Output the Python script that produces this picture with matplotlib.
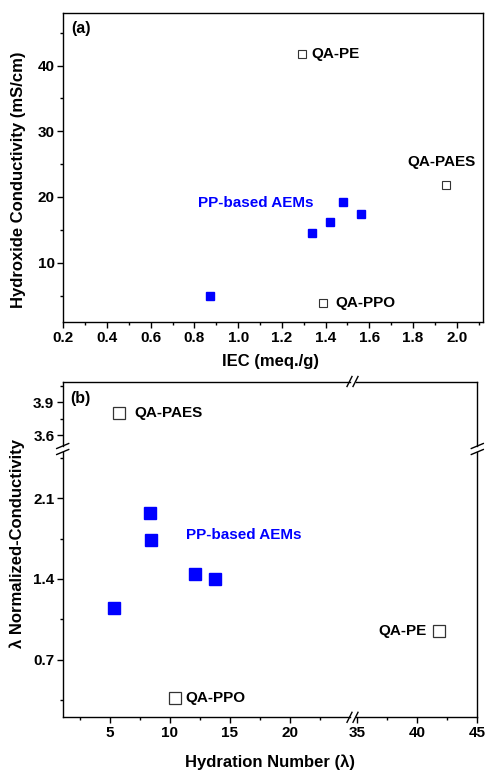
import numpy as np
import matplotlib
matplotlib.use("Agg")
import matplotlib.pyplot as plt
from matplotlib.lines import Line2D

plt.rcParams['font.family'] = ['Liberation Sans', 'DejaVu Sans']
plt.rcParams['font.weight'] = 'bold'

W, H = 487, 772

# данные панели (a): IEC vs проводимость
pp_iec = [0.87, 1.34, 1.42, 1.48, 1.56]
pp_cond = [5.0, 14.5, 16.2, 19.2, 17.4]
ref_names = ['QA-PE', 'QA-PAES', 'QA-PPO']
ref_iec = [1.29, 1.95, 1.39]
ref_cond = [41.8, 21.9, 3.9]

# данные панели (b): гидратное число vs нормированная проводимость
pp_lambda = [5.3, 8.3, 8.4, 12.1, 13.75]
pp_norm = [1.15, 1.97, 1.74, 1.44, 1.40]
ref_lambda = [41.85, 5.75, 10.4]
ref_norm = [0.95, 3.80, 0.37]

a_xticks = [0.2, 0.4, 0.6, 0.8, 1.0, 1.2, 1.4, 1.6, 1.8, 2.0]
a_yticks = [10, 20, 30, 40]
b_xticks_left = [5, 10, 15, 20]
b_xticks_right = [35, 40, 45]
b_yticks_low = [0.7, 1.4, 2.1]
b_yticks_up = [3.6, 3.9]

TICK_FS = 11
NOTE_FS = 11


def fr(x, y):
    # пиксели -> доли фигуры
    return x / W, 1 - y / H


def box(l, t, r, b):
    x0, y1 = fr(l, t)
    x1, y0 = fr(r, b)
    return [x0, y0, x1 - x0, y1 - y0]


def style(ax):
    ax.tick_params(which='major', direction='out', length=4, width=1, labelsize=TICK_FS, pad=2)
    ax.tick_params(which='minor', direction='out', length=2.5, width=1)
    for s in ax.spines.values():
        s.set_linewidth(1)
    for lab in ax.get_xticklabels() + ax.get_yticklabels():
        lab.set_fontweight('bold')


fig = plt.figure(figsize=(W / 100, H / 100), dpi=100)

# ---------------- панель (a)
ax = fig.add_axes(box(63.3, 13, 483, 322.5))
ax.plot(pp_iec, pp_cond, 's', color='blue', ms=6, mec='blue')
ax.plot(ref_iec, ref_cond, 's', mfc='white', mec='#333333', mew=0.8, ms=6)
ax.set_xlim(0.2, 2.12)
ax.set_ylim(0.9, 48)
ax.set_xticks(a_xticks)
ax.set_xticklabels([f'{v:.1f}' for v in a_xticks])
ax.set_xticks(np.arange(0.3, 2.12, 0.2), minor=True)
ax.set_yticks(a_yticks)
ax.set_yticks([5, 15, 25, 35, 45], minor=True)
style(ax)
ax.text(0.02, 0.975, '(a)', transform=ax.transAxes, fontsize=11.5, fontweight='bold', va='top')
ax.text(1.333, 41.8, 'QA-PE', fontsize=NOTE_FS, fontweight='bold', va='center')
ax.text(1.93, 25.4, 'QA-PAES', fontsize=NOTE_FS, fontweight='bold', va='center', ha='center')
ax.text(1.445, 3.9, 'QA-PPO', fontsize=NOTE_FS, fontweight='bold', va='center')
ax.text(0.815, 19.1, 'PP-based AEMs', fontsize=NOTE_FS, fontweight='bold', va='center', color='blue')
fig.text(*fr(270, 361.7), 'IEC (meq./g)', fontsize=12, fontweight='bold', ha='center', va='center')
fig.text(*fr(19, 180), 'Hydroxide Conductivity (mS/cm)', fontsize=12, fontweight='bold',
         ha='center', va='center', rotation=90)

# ---------------- панель (b) с разрывами осей
L, R, T, B = 62.7, 477.3, 381.5, 717.3
xb1, xb2 = 349.5, 355.5
yb1, yb2 = 446, 452
ax_ul = fig.add_axes(box(L, T, xb1, yb1))
ax_ur = fig.add_axes(box(xb2, T, R, yb1))
ax_ll = fig.add_axes(box(L, yb2, xb1, B))
ax_lr = fig.add_axes(box(xb2, yb2, R, B))

for a in (ax_ul, ax_ur, ax_ll, ax_lr):
    a.plot(pp_lambda, pp_norm, 's', color='blue', ms=8, mec='blue')
    a.plot(ref_lambda, ref_norm, 's', mfc='white', mec='#333333', mew=0.9, ms=8)

for a in (ax_ul, ax_ll):
    a.set_xlim(1.05, 25.0)
for a in (ax_ur, ax_lr):
    a.set_xlim(34.9, 45)
for a in (ax_ul, ax_ur):
    a.set_ylim(3.5, 4.09)
    a.spines['bottom'].set_visible(False)
    a.tick_params(axis='x', which='both', bottom=False, labelbottom=False)
for a in (ax_ll, ax_lr):
    a.set_ylim(0.2, 2.5)
    a.spines['top'].set_visible(False)
for a in (ax_ul, ax_ll):
    a.spines['right'].set_visible(False)
for a in (ax_ur, ax_lr):
    a.spines['left'].set_visible(False)
    a.tick_params(axis='y', which='both', left=False, labelleft=False)

ax_ul.set_yticks(b_yticks_up)
ax_ul.set_yticks([3.75, 4.05], minor=True)
ax_ll.set_yticks(b_yticks_low)
ax_ll.set_yticks([0.35, 1.05, 1.75, 2.45], minor=True)
ax_ll.set_xticks(b_xticks_left)
ax_ll.set_xticks([2.5, 7.5, 12.5, 17.5, 22.5], minor=True)
ax_lr.set_xticks(b_xticks_right)
ax_lr.set_xticks([37.5, 42.5], minor=True)
for a in (ax_ul, ax_ur, ax_ll, ax_lr):
    style(a)

ax_ul.text(0.028, 0.86, '(b)', transform=ax_ul.transAxes, fontsize=11.5, fontweight='bold', va='top')
ax_ul.text(7.0, 3.8, 'QA-PAES', fontsize=NOTE_FS, fontweight='bold', va='center')
ax_ll.text(11.33, 1.78, 'PP-based AEMs', fontsize=NOTE_FS, fontweight='bold', va='center', color='blue')
ax_ll.text(11.33, 0.365, 'QA-PPO', fontsize=NOTE_FS, fontweight='bold', va='center')
ax_lr.text(40.8, 0.95, 'QA-PE', fontsize=NOTE_FS, fontweight='bold', va='center', ha='right')

fig.text(*fr(270, 762), 'Hydration Number (λ)', fontsize=12, fontweight='bold', ha='center', va='center')
fig.text(*fr(17, 543), 'λ Normalized-Conductivity', fontsize=12, fontweight='bold',
         ha='center', va='center', rotation=90)


# знаки разрыва "//"
def slash(x0, y0, x1, y1):
    (a0, b0), (a1, b1) = fr(x0, y0), fr(x1, y1)
    fig.add_artist(Line2D([a0, a1], [b0, b1], color='black', lw=1, transform=fig.transFigure))


xc = (xb1 + xb2) / 2
for yy in (T, B):
    for dx in (-3, 3):
        slash(xc + dx - 2.5, yy + 5, xc + dx + 2.5, yy - 5)
yc = (yb1 + yb2) / 2
for xx in (L, R):
    for dy in (-3, 3):
        slash(xx - 6, yc + dy + 2.5, xx + 6, yc + dy - 2.5)

fig.savefig('out.png', dpi=100)
